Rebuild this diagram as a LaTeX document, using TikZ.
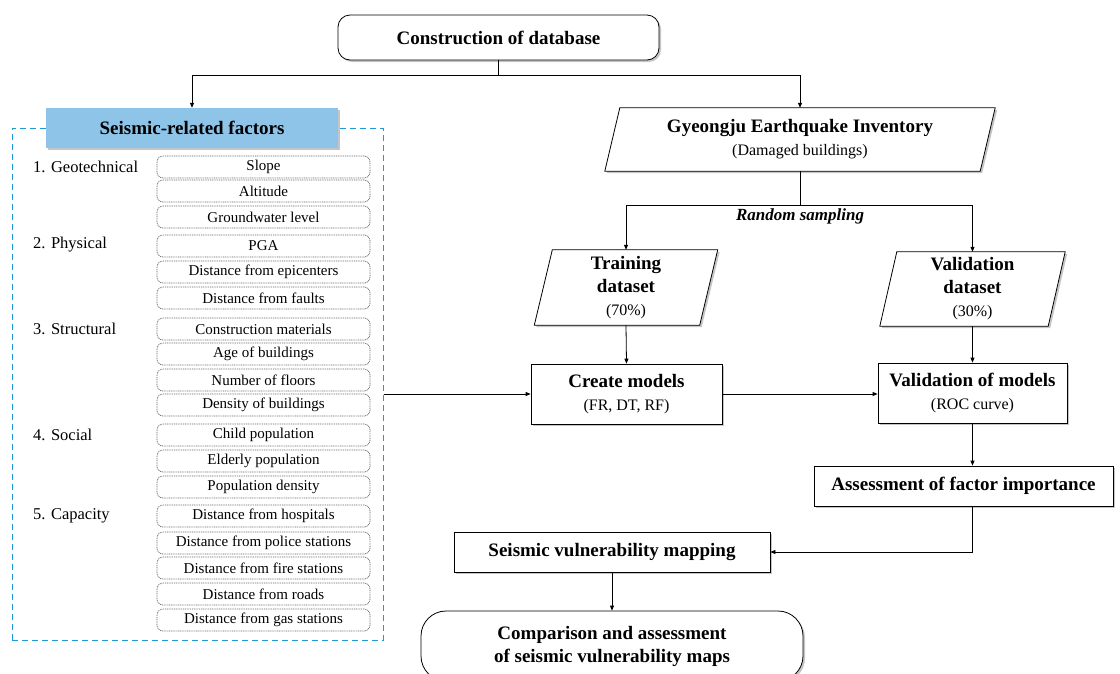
\documentclass[tikz,border=0pt]{standalone}
\usepackage{fontspec}
\setmainfont{Liberation Serif}
\usetikzlibrary{shadows,arrows.meta,calc,backgrounds}
\definecolor{hdrblue}{HTML}{8DC4E8}
\definecolor{dashblue}{HTML}{1F9AD8}
\tikzset{
  every node/.style={inner sep=0pt},
  ln/.style={line width=0.8pt},
  arr/.style={line width=0.8pt,-{Triangle[length=5pt,width=4pt]}},
  shad/.style={drop shadow={shadow xshift=2pt,shadow yshift=-2pt,fill=black!45,opacity=.5}},
  box/.style={draw,line width=0.8pt,fill=white,shad,align=center},
  item/.style={draw=black!60,dash pattern=on 1pt off 0.8pt,line width=0.7pt,rounded corners=6pt,
     minimum width=213pt,minimum height=22pt,font=\fontsize{15}{17}\selectfont},
  cat/.style={anchor=west,font=\fontsize{16.5}{19}\selectfont},
  big/.style={font=\fontsize{19}{23}\selectfont\bfseries},
  multi/.style={font=\fontsize{19}{23}\selectfont,align=center},
  para/.style={draw,line width=0.8pt,fill=white,shad},
}
\newcommand{\subt}[1]{{\fontsize{16}{23}\selectfont #1}}
\begin{document}
\begin{tikzpicture}[x=1pt,y=-1pt]
\useasboundingbox (0,0) rectangle (1120,673);

% top
\node[box,rounded corners=12pt,minimum width=321pt,minimum height=45pt,big] (db) at (498.5,37.5) {Construction of database};

% left factor group
\node[draw=dashblue,dash pattern=on 6pt off 4pt,line width=1pt,minimum width=371pt,minimum height=512pt] (factors) at (197.5,384) {};
\node[fill=hdrblue,minimum width=292pt,minimum height=40pt,big,shad] (srf) at (192,128) {Seismic-related factors};

\node[cat] (c1) at (33,167) {1. Geotechnical};
\node[cat] (c2) at (33,245) {2. Physical};
\node[cat] (c3) at (33,329) {3. Structural};
\node[cat] (c4) at (33,435) {4. Social};
\node[cat] (c5) at (33,516) {5. Capacity};

\foreach \yy/\tt [count=\k] in {167/Slope,191/Altitude,217/Groundwater level,246/PGA,272/Distance from epicenters,298/Distance from faults,329/Construction materials,354/Age of buildings,380/Number of floors,405/Density of buildings,435/Child population,461/Elderly population,487/Population density,516/Distance from hospitals,543/Distance from police stations,568/Distance from fire stations,594/Distance from roads,620/Distance from gas stations}
  \node[item] (i\k) at (263.5,\yy) {\tt};

% inventory
\node[multi,minimum width=375pt,minimum height=63pt] (inv) at (800,139.5)
  {\textbf{Gyeongju Earthquake Inventory}\\ \subt{(Damaged buildings)}};
\begin{scope}[on background layer]
\draw[para] ([xshift=-7.5pt]inv.south west) -- ([xshift=-7.5pt]inv.south east) -- ([xshift=7.5pt]inv.north east) -- ([xshift=7.5pt]inv.north west) -- cycle;
\end{scope}

\node[font=\fontsize{17}{20}\selectfont\bfseries\itshape] (rs) at (800,216) {Random sampling};

% datasets
\node[multi,minimum width=165pt,minimum height=75pt] (train) at (626,287.5)
  {\textbf{Training}\\ \textbf{dataset}\\ \subt{(70\%)}};
\node[multi,minimum width=168pt,minimum height=74pt] (valid) at (972.5,289)
  {\textbf{Validation}\\ \textbf{dataset}\\ \subt{(30\%)}};
\begin{scope}[on background layer]
\draw[para] ([xshift=-9pt]train.south west) -- ([xshift=-9pt]train.south east) -- ([xshift=9pt]train.north east) -- ([xshift=9pt]train.north west) -- cycle;
\draw[para] ([xshift=-8.5pt]valid.south west) -- ([xshift=-8.5pt]valid.south east) -- ([xshift=8.5pt]valid.north east) -- ([xshift=8.5pt]valid.north west) -- cycle;
\end{scope}

% models
\node[box,multi,minimum width=191pt,minimum height=60pt] (cm) at (626.5,394)
  {\textbf{Create models}\\ \subt{(FR, DT, RF)}};
\node[box,multi,minimum width=189pt,minimum height=60pt] (vm) at (972.5,393)
  {\textbf{Validation of models}\\ \subt{(ROC curve)}};
\node[box,minimum width=299pt,minimum height=40pt,big] (afi) at (963.5,486) {Assessment of factor importance};
\node[box,minimum width=316pt,minimum height=40pt,big] (svm) at (612,552) {Seismic vulnerability mapping};
\node[box,rounded corners=25pt,minimum width=382pt,minimum height=70pt,align=center,big] (cmp) at (612,646)
  {Comparison and assessment\\of seismic vulnerability maps};

% connectors
\coordinate (split1) at ($(db.south)+(0,15)$);
\draw[ln] (db.south) -- (split1);
\draw[arr] (split1) -| (srf.north);
\draw[arr] (split1) -| (inv.north);
\coordinate (split2) at ($(inv.south)+(0,34)$);
\draw[ln] (inv.south) -- (split2);
\draw[arr] (split2) -| (train.north);
\draw[arr] (split2) -| (valid.north);
\draw[arr] (train.south) -- (cm.north);
\draw[arr] (valid.south) -- (vm.north);
\draw[arr] (factors.east |- cm.west) -- (cm.west);
\draw[arr] (cm.east) -- (cm.east -| vm.west);
\draw[arr] (vm.south) -- (vm.south |- afi.north);
\draw[arr] (afi.south -| vm.south) |- (svm.east);
\draw[arr] (svm.south) -- (svm.south |- cmp.north);
\end{tikzpicture}
\end{document}
